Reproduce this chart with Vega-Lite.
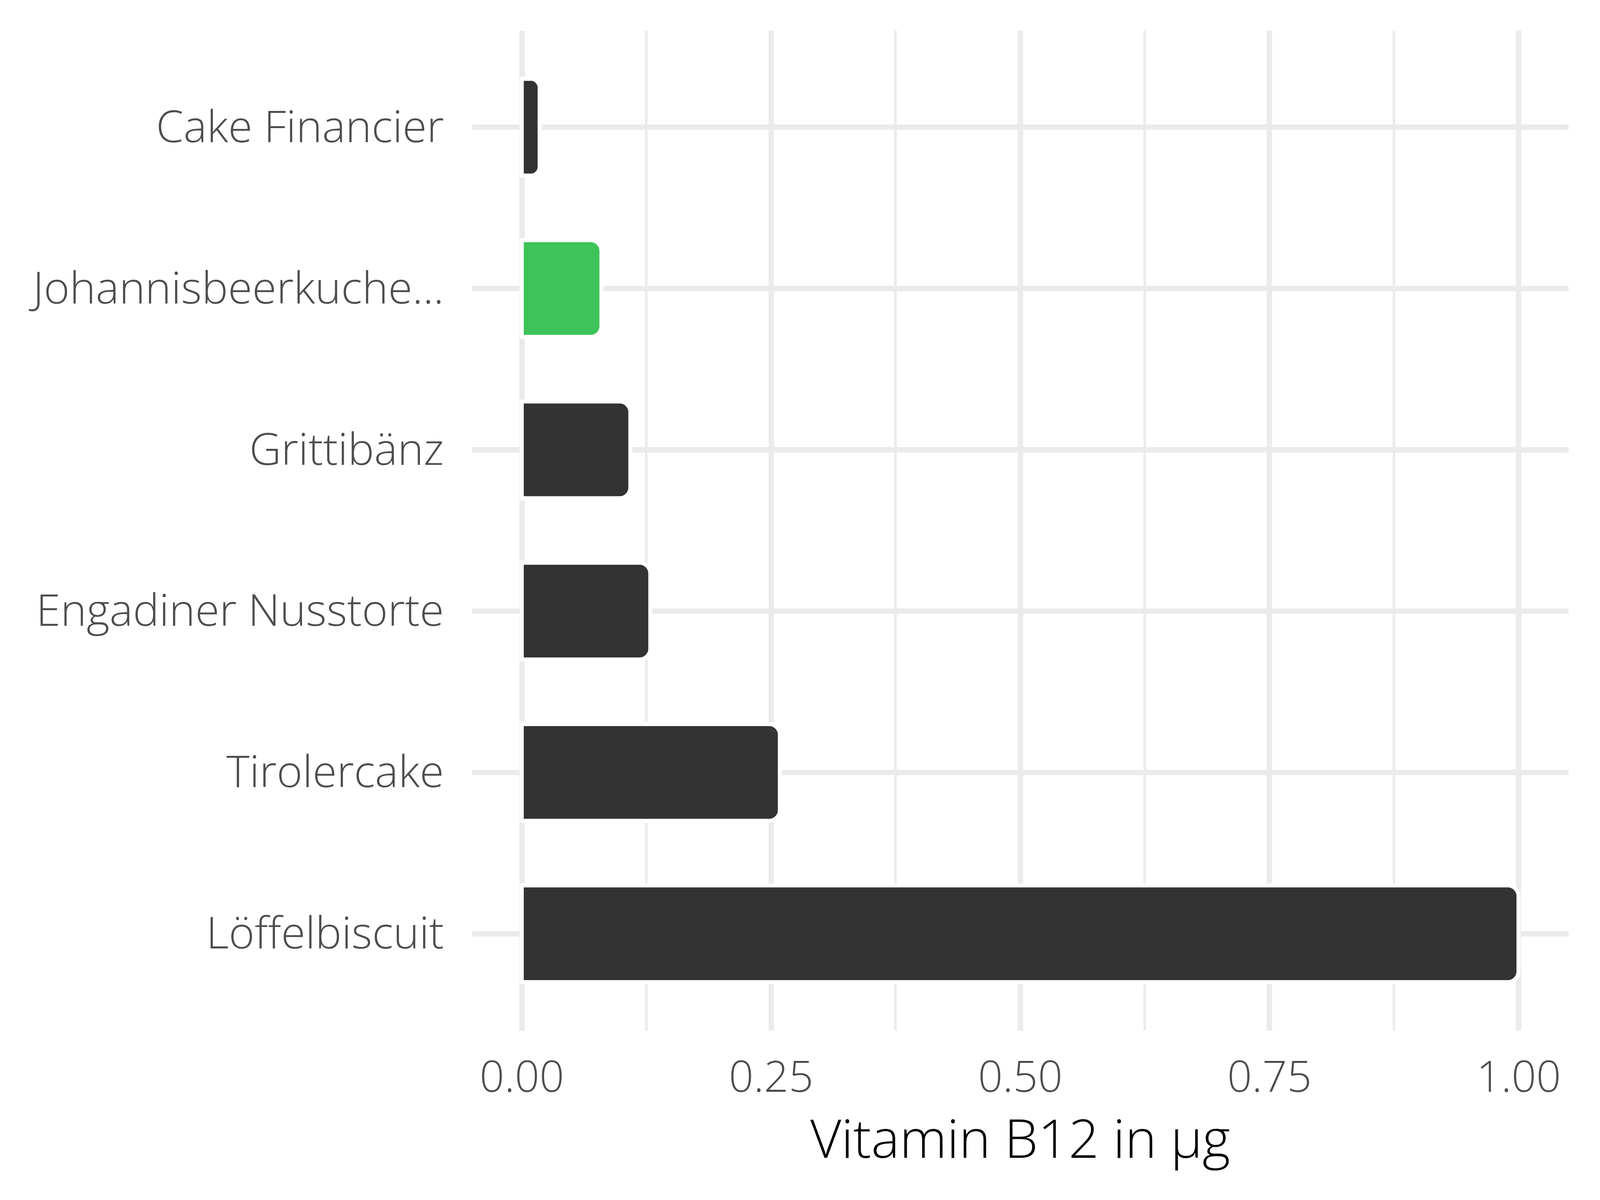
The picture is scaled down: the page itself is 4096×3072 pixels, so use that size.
{
  "$schema": "https://vega.github.io/schema/vega-lite/v6.json",
  "autosize": "none",
  "width": 2807,
  "height": 2560,
  "padding": {"left": 1208, "top": 78, "right": 81, "bottom": 434},
  "background": "white",
  "config": {
    "view": {"stroke": null},
    "font": "Open Sans"
  },
  "datasets": {
    "bars": [
      {"name": "Cake Financier", "value": 0.018, "group": "other"},
      {"name": "Johannisbeerkuche...", "value": 0.08, "group": "highlight"},
      {"name": "Grittibänz", "value": 0.109, "group": "other"},
      {"name": "Engadiner Nusstorte", "value": 0.129, "group": "other"},
      {"name": "Tirolercake", "value": 0.259, "group": "other"},
      {"name": "Löffelbiscuit", "value": 1.0, "group": "other"}
    ],
    "minor": [
      {"value": 0.125}, {"value": 0.375}, {"value": 0.625}, {"value": 0.875}
    ]
  },
  "encoding": {
    "x": {
      "field": "value", "type": "quantitative",
      "scale": {"domain": [-0.05, 1.05], "nice": false, "zero": false},
      "axis": {
        "title": "Vitamin B12 in µg",
        "values": [0, 0.25, 0.5, 0.75, 1.0],
        "format": ".2f",
        "domain": false,
        "ticks": false,
        "tickSize": 0,
        "labelPadding": 156,
        "labelBaseline": "alphabetic",
        "labelFont": "Open Sans",
        "labelFontWeight": 300,
        "labelFontSize": 111,
        "labelColor": "#4D4D4D",
        "labelLimit": 1000,
        "grid": true,
        "gridColor": "#EBEBEB",
        "gridWidth": 14,
        "titleFont": "Open Sans",
        "titleFontWeight": 300,
        "titleFontSize": 137,
        "titleColor": "#000000",
        "titleBaseline": "alphabetic",
        "titleY": 325
      }
    }
  },
  "layer": [
    {
      "data": {"name": "minor"},
      "mark": {"type": "rule", "color": "#EBEBEB", "strokeWidth": 6.5},
      "encoding": {}
    },
    {
      "data": {"name": "bars"},
      "mark": {"type": "bar", "cornerRadiusEnd": 28, "stroke": "white", "strokeWidth": 10},
      "encoding": {
        "y": {
          "field": "name", "type": "nominal",
          "sort": ["Cake Financier", "Johannisbeerkuche...", "Grittibänz", "Engadiner Nusstorte", "Tirolercake", "Löffelbiscuit"],
          "scale": {"paddingInner": 0.4, "paddingOuter": 0.3},
          "axis": {
            "title": null,
            "domain": false,
            "ticks": false,
            "tickSize": 0,
            "labelPadding": 72,
            "labelFont": "Open Sans",
            "labelFontWeight": 300,
            "labelFontSize": 113,
            "labelColor": "#4D4D4D",
            "labelOffset": 4,
            "grid": true,
            "bandPosition": 0.5,
            "gridColor": "#EBEBEB",
            "gridWidth": 14,
            "labelLimit": 2000
          }
        },
        "color": {
          "field": "group", "type": "nominal",
          "scale": {"domain": ["other", "highlight"], "range": ["#333333", "#3EC35A"]},
          "legend": null
        }
      }
    }
  ]
}
